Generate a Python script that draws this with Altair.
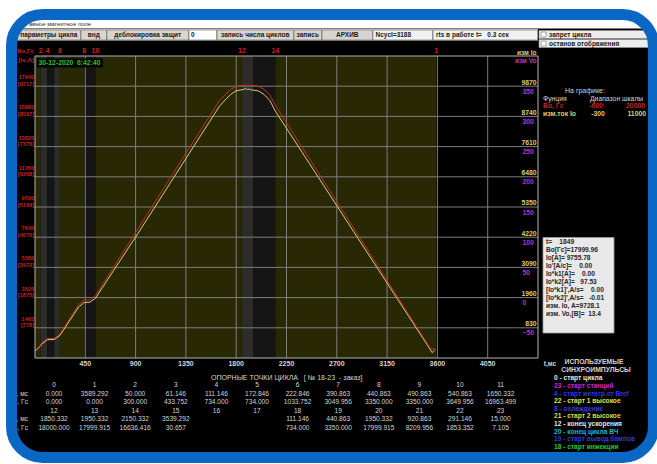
import altair as alt
import pandas as pd

# ---------------- cycle data ----------------
# support points of the cycle: index, time [ms], field [Gs]
pt_index = list(range(24))
pt_ms = ["0.000", "3589.292", "50.000", "61.146", "111.146", "172.846", "222.846", "390.863",
         "440.863", "490.863", "540.863", "1650.332",
         "1850.332", "1950.332", "2150.332", "3539.292", "", "", "111.146", "440.863",
         "1950.332", "920.863", "291.146", "15.000"]
pt_gs = ["0.000", "0.000", "300.000", "433.752", "734.000", "734.000", "1033.752", "3049.956",
         "3350.000", "3350.000", "3649.956", "16963.499",
         "18000.000", "17999.915", "16636.416", "30.657", "", "", "734.000", "3350.000",
         "17999.915", "8209.956", "1853.352", "7.105"]

# field reference Bo(t), Gs
bo_t = [0, 15, 50, 61.146, 111.146, 172.846, 222.846, 291.146, 390.863, 440.863, 490.863,
        540.863, 920.863, 1650.332, 1700, 1750, 1800, 1850.332, 1950.332, 2000, 2050, 2100,
        2150.332, 3539.292, 3589.292]
bo_v = [0, 7.105, 300, 433.752, 734, 734, 1033.752, 1853.352, 3049.956, 3350, 3350,
        3649.956, 8209.956, 16963.499, 17350, 17720, 17930, 18000, 17999.915, 17930, 17720,
        17350, 16636.416, 30.657, 0]

# measured current Io(t), A
io_t = [0, 15, 50, 61, 111, 173, 223, 291, 391, 441, 491, 541, 921, 1650, 1700, 1750, 1800,
        1850, 1870, 1885, 1900, 1915, 1930, 1950, 2000, 2050, 2100, 2150, 3520, 3552, 3575]
io_v = [0, 5, 150, 225, 385, 392, 545, 975, 1610, 1778, 1785, 1938, 4360, 9120, 9350, 9560,
        9700, 9735, 9750, 9790, 9740, 9770, 9732, 9728, 9690, 9560, 9340, 8940, 120, -100, -10]

# shaded intervals of the cycle
band_start = [0, 50, 111.146, 172.846, 222.846, 440.863, 540.863, 1850.332, 1950.332, 2150.332]
band_end = [50, 111.146, 172.846, 222.846, 440.863, 540.863, 1850.332, 1950.332, 2150.332, 3589.292]
band_kind = ["olive", "gray", "dark", "gray", "olive", "dark", "olive", "gray", "dark", "olive"]

# sync markers along the top edge
mark_t = [50, 111.146, 222.846, 440.863, 540.863, 1850.332, 2150.332, 3589.292]
mark_lbl = ["2", "4", "6", "8", "10", "12", "14", "1"]

# axis ticks
t_ticks = [450, 900, 1350, 1800, 2250, 2700, 3150, 3600, 4050]
bo_ticks = [1460, 3520, 5580, 7640, 9700, 11760, 13820, 15880, 17940]
bo_amp = [778, 1875, 2972, 4070, 5168, 6268, 7376, 8507, 9717]
io_ticks = [830, 1960, 3090, 4220, 5350, 6480, 7610, 8740, 9870]
vo_ticks = [-50, 0, 50, 100, 150, 200, 250, 300, 350]

NB = "\u00a0"
info_lines = ["t=" + NB * 4 + "1849", "Bo[Гс]=17999.96", "Io[A]=" + NB + "9755.78",
              "Io'[A/c]=" + NB * 4 + "0.00", "Io*k1[A]=" + NB * 4 + "0.00",
              "Io*k2[A]=" + NB * 3 + "97.53", "[Io*k1]',A/s=" + NB * 4 + "0.00",
              "[Io*k2]',A/s=" + NB * 3 + "-0.01", "изм. Io, A=9728.1",
              "изм. Vo,[B]=" + NB * 2 + "13.4"]

sync_text = ["0 - старт цикла", "23 - старт станций", "4 - старт интегр.от Bref",
             "22 - старт 1 высокое", "8 - охлаждение", "21 - старт 2 высокое",
             "12 - конец ускорения", "20 - конец цикла ВЧ", "19 - старт вывод.бампов",
             "18 - старт инжекции"]
sync_color = ["#e6e6e6", "#c828c8", "#3434e6", "#e0e046", "#3c3cd8", "#dcdc46",
              "#e6e6e6", "#22b4c4", "#2c3ccc", "#22c83c"]

# ---------------- layout ----------------
W, H = 503, 302          # plot area
PX, PY = 35, 56          # plot area origin on the page
T_DOM = [0, 4500]
BO_DOM = [-600, 20000]
IO_DOM = [-300, 11000]
VO_DOM = [-100, 400]

SANS = "Liberation Sans Narrow, Liberation Sans, Arial"
ONE = pd.DataFrame({"a": [0]})

RED = "#cc2a22"
YEL = "#d6cf78"
MAG = "#c030c0"
GRAY_TXT = "#d4d4d4"
BLUE = "#0b67c4"


def xs():
    return alt.Scale(domain=T_DOM)


def label(txt, x, y, color, size=6.5, align="left", weight="bold"):
    return alt.Chart(ONE).mark_text(
        align=align, baseline="middle", fontSize=size, fontWeight=weight, font=SANS, color=color
    ).encode(x=alt.value(x - PX), y=alt.value(y - PY), text=alt.value(txt))


def box(x1, y1, x2, y2, fill, stroke=None, sw=1.0, radius=0, opacity=1.0):
    kw = dict(fill=fill, fillOpacity=opacity)
    if stroke:
        kw.update(stroke=stroke, strokeWidth=sw)
    if radius:
        kw.update(cornerRadius=radius)
    return alt.Chart(ONE).mark_rect(**kw).encode(
        x=alt.value(x1 - PX), x2=alt.value(x2 - PX), y=alt.value(y1 - PY), y2=alt.value(y2 - PY))


FRAME = (11.5, 14.5, 653.5, 457.5)
layers = []

# screen backdrop inside the rounded frame
layers.append(box(*FRAME, "#000000", radius=31))

# title bar and tool buttons
layers.append(box(17, 20, 648, 28.5, "#ffffff"))
layers.append(label("авное магнитное поле", 29, 24.3, "#303030", size=6, weight="normal"))
layers.append(box(17, 29, 538, 40.5, "#d6d3cc"))
buttons = [(17, 80.5, "параметры цикла"), (81, 106.5, "внд"), (107, 188.5, "деблокировка защит"),
           (217, 293.5, "запись числа циклов"), (294, 321.5, "запись"), (322, 372.5, "АРХИВ")]
for x1, x2, txt in buttons:
    layers.append(box(x1, 30, x2, 40, "#d8d5ce", stroke="#7a7a7a", sw=0.7))
    layers.append(label(txt, (x1 + x2) / 2, 35.2, "#1a1a1a", size=6.5, align="center"))
layers.append(box(189, 30, 216.5, 40, "#ffffff", stroke="#7a7a7a", sw=0.7))
layers.append(label("0", 191, 35.2, "#1a1a1a", size=6.5))
layers.append(box(373, 30, 432.5, 40, "#f2f2f2", stroke="#7a7a7a", sw=0.7))
layers.append(label("Ncycl=3188", 375.5, 35.2, "#1a1a1a", size=6.5))
layers.append(box(433, 30, 537.5, 40, "#f2f2f2", stroke="#7a7a7a", sw=0.7))
layers.append(label("rts в работе t=" + NB * 3 + "0.3 сек", 436, 35.2, "#1a1a1a", size=6.5))
layers.append(box(539, 30.5, 648, 38.5, "#ececec", stroke="#9a9a9a", sw=0.6))
layers.append(box(539, 39.5, 648, 47.5, "#ececec", stroke="#9a9a9a", sw=0.6))
layers.append(box(541, 32, 546, 37, "#ffffff", stroke="#707070", sw=0.6))
layers.append(box(541, 41, 546, 46, "#ffffff", stroke="#707070", sw=0.6))
layers.append(label("запрет цикла", 549, 34.6, "#1a1a1a", size=6.5))
layers.append(label("останов отображения", 549, 43.6, "#1a1a1a", size=6.5))

# ---------------- plot area ----------------
bands = pd.DataFrame({"t0": band_start, "t1": band_end, "kind": band_kind})
layers.append(alt.Chart(bands).mark_rect().encode(
    x=alt.X("t0:Q", scale=xs(), axis=None), x2="t1:Q",
    y=alt.value(0), y2=alt.value(H),
    color=alt.Color("kind:N", legend=None,
                    scale=alt.Scale(domain=["olive", "gray", "dark"],
                                    range=["#282805", "#2c2c29", "#151515"]))))

grid_t = pd.DataFrame({"t": t_ticks})
layers.append(alt.Chart(grid_t).mark_rule(color="#7e7e7e", strokeWidth=1).encode(
    x=alt.X("t:Q", scale=xs(), axis=None), y=alt.value(0), y2=alt.value(H)))
grid_b = pd.DataFrame({"b": bo_ticks})
layers.append(alt.Chart(grid_b).mark_rule(color="#7e7e7e", strokeWidth=1).encode(
    y=alt.Y("b:Q", scale=alt.Scale(domain=BO_DOM), axis=None), x=alt.value(0), x2=alt.value(W)))

# time stamp
layers.append(box(37, 58.5, 103, 67.5, "#000000"))
layers.append(label("30-12-2020" + NB * 2 + "6:42:40", 38.5, 63, "#22c42a", size=6.8))

# measured current and field reference curves
io_df = pd.DataFrame({"t": io_t, "v": io_v})
layers.append(alt.Chart(io_df).mark_line(color=YEL, strokeWidth=1.0).encode(
    x=alt.X("t:Q", scale=xs(), axis=None),
    y=alt.Y("v:Q", scale=alt.Scale(domain=IO_DOM), axis=None)))
bo_df = pd.DataFrame({"t": bo_t, "v": bo_v})
layers.append(alt.Chart(bo_df).mark_line(color=RED, strokeWidth=1.0).encode(
    x=alt.X("t:Q", scale=xs(), axis=None),
    y=alt.Y("v:Q", scale=alt.Scale(domain=BO_DOM), axis=None)))

# plot frame
layers.append(box(PX, PY, PX + W, PY + H, "#000000", stroke="#b4b4b4", sw=1, opacity=0))

# sync markers
marks = pd.DataFrame({"t": mark_t, "lbl": mark_lbl})
layers.append(alt.Chart(marks).mark_text(
    color="#d42020", fontSize=7, fontWeight="bold", font=SANS, baseline="middle").encode(
    x=alt.X("t:Q", scale=xs(), axis=None), y=alt.value(51 - PY), text="lbl:N"))

# time axis labels
tl = pd.DataFrame({"t": t_ticks})
layers.append(alt.Chart(tl).mark_text(
    color=GRAY_TXT, fontSize=7, fontWeight="bold", font=SANS, baseline="middle").encode(
    x=alt.X("t:Q", scale=xs(), axis=None), y=alt.value(364 - PY), text="t:Q"))
layers.append(label("t,мс", 550, 364, GRAY_TXT, size=6.5, align="center"))

# left scale: field [current]
bl = pd.DataFrame({"b": bo_ticks, "amp": [f"[{a}]" for a in bo_amp]})
layers.append(alt.Chart(bl).mark_text(
    color="#c82020", fontSize=5.6, fontWeight="bold", font=SANS, align="right", baseline="middle",
    dy=-9).encode(
    x=alt.value(34 - PX), y=alt.Y("b:Q", scale=alt.Scale(domain=BO_DOM), axis=None), text="b:Q"))
layers.append(alt.Chart(bl).mark_text(
    color="#c82020", fontSize=5.6, fontWeight="bold", font=SANS, align="right", baseline="middle",
    dy=-2.5).encode(
    x=alt.value(34 - PX), y=alt.Y("b:Q", scale=alt.Scale(domain=BO_DOM), axis=None), text="amp:N"))
layers.append(label("Bo,Гс", 34, 50.5, "#c82020", size=6.2, align="right"))
layers.append(label("[Io,A]", 34, 59.5, "#c82020", size=6.2, align="right"))

# right scales: measured current and voltage
il = pd.DataFrame({"i": io_ticks})
layers.append(alt.Chart(il).mark_text(
    color=YEL, fontSize=6.8, fontWeight="bold", font=SANS, align="right", baseline="middle",
    dy=-3.7).encode(
    x=alt.value(536.5 - PX), y=alt.Y("i:Q", scale=alt.Scale(domain=IO_DOM), axis=None), text="i:Q"))
vl = pd.DataFrame({"v": vo_ticks})
layers.append(alt.Chart(vl).mark_text(
    color=MAG, fontSize=6.8, fontWeight="bold", font=SANS, align="left", baseline="middle",
    dy=5.5).encode(
    x=alt.value(522.5 - PX), y=alt.Y("v:Q", scale=alt.Scale(domain=VO_DOM), axis=None), text="v:Q"))
layers.append(label("изм Io", 536.5, 53, YEL, size=6.5, align="right"))
layers.append(label("изм Vo", 536.5, 61.3, MAG, size=6.5, align="right"))

# ---------------- right panel ----------------
layers.append(label("На графике:", 565, 91, GRAY_TXT, size=7, weight="normal"))
layers.append(label("Фунция", 543, 99, GRAY_TXT, size=6.8, weight="normal"))
layers.append(label("Диапазон шкалы", 590, 99, GRAY_TXT, size=6.8, weight="normal"))
layers.append(label("Bo, Гс", 543, 106, "#c82020", size=6.8))
layers.append(label("-600", 596, 106, "#c82020", size=6.8, align="center"))
layers.append(label("20000", 645, 106, "#c82020", size=6.8, align="right"))
layers.append(label("изм.ток Io", 543, 113.5, YEL, size=6.8))
layers.append(label("-300", 598, 113.5, YEL, size=6.8, align="center"))
layers.append(label("11000", 646, 113.5, YEL, size=6.8, align="right"))

layers.append(box(543, 237.5, 614, 333, "#e8e8e8", stroke="#9c9c9c", sw=0.8))
layers.append(alt.Chart(ONE).mark_text(
    align="left", baseline="top", fontSize=6.6, fontWeight="bold", font=SANS, color="#262626",
    lineHeight=8.1, text=info_lines).encode(x=alt.value(546 - PX), y=alt.value(238.5 - PY)))

layers.append(label("ИСПОЛЬЗУЕМЫЕ", 594, 362, GRAY_TXT, size=6.8, align="center"))
layers.append(label("СИНХРОИМПУЛЬСЫ", 596, 370, GRAY_TXT, size=6.8, align="center"))
for i, (txt, col) in enumerate(zip(sync_text, sync_color)):
    layers.append(label(txt, 554, 378.3 + 7.6 * i, col, size=6.6))

# ---------------- support point table ----------------
layers.append(label("ОПОРНЫЕ ТОЧКИ ЦИКЛА" + NB * 3 + "[ № 18-23" + NB * 2 + "- заказ]", 211, 377.5,
                    GRAY_TXT, size=7, weight="normal"))
rows = []
for half in (0, 1):
    for c in range(12):
        k = half * 12 + c
        rows.append({"col": c, "row": half * 3, "txt": str(pt_index[k])})
        rows.append({"col": c, "row": half * 3 + 1, "txt": pt_ms[k]})
        rows.append({"col": c, "row": half * 3 + 2, "txt": pt_gs[k]})
tab = pd.DataFrame(rows)
layers.append(alt.Chart(tab).mark_text(
    color=GRAY_TXT, fontSize=6.6, font=SANS, baseline="middle").encode(
    x=alt.X("col:Q", scale=alt.Scale(domain=[0, 11], range=[54 - PX, 500.6 - PX]), axis=None),
    y=alt.Y("row:Q", scale=alt.Scale(domain=[0, 5], range=[385 - PY, 428 - PY]), axis=None),
    text="txt:N"))
for r, txt in [(1, "t, мс"), (2, "B, Гс"), (4, "t, мс"), (5, "B, Гс")]:
    layers.append(label(txt, 28, 385 + 8.6 * r, GRAY_TXT, size=6.6, align="right", weight="normal"))

# rounded blue frame on top
layers.append(box(*FRAME, "#000000", stroke=BLUE, sw=11, radius=31, opacity=0))

chart = alt.layer(*layers).resolve_scale(
    x="independent", y="independent", color="independent"
).properties(
    width=W, height=H, background="#ffffff", autosize="none",
    padding={"left": PX, "top": PY, "right": 657 - PX - W, "bottom": 464 - PY - H},
).configure_view(stroke=None)

chart.save("out.html", embed_options={"renderer": "svg", "actions": False})
